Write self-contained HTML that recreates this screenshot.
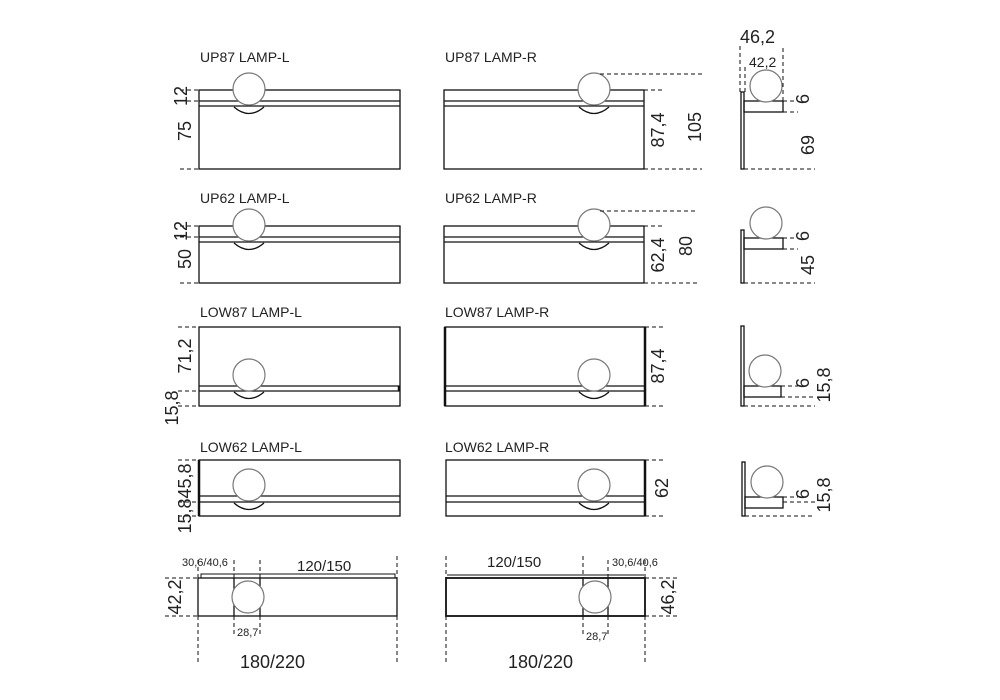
<!DOCTYPE html>
<html><head><meta charset="utf-8"><style>
html,body{margin:0;padding:0;background:#fff;}
svg{display:block;}
text{font-family:"Liberation Sans",sans-serif;fill:#222;}
.lb{font-size:14px;}
.d{font-size:18px;}
.s{font-size:11px;}
</style></head><body>
<svg width="1000" height="700" viewBox="0 0 1000 700" xmlns="http://www.w3.org/2000/svg">
<defs>
<g id="lamp"><circle r="16" fill="#fff" stroke="#777" stroke-width="1.2"/></g>
</defs>
<g fill="none" stroke="#111" stroke-width="1.3">
<rect x="199" y="90" width="201" height="79"/>
<line x1="199" y1="101" x2="400" y2="101"/><line x1="199" y1="106" x2="400" y2="106"/>
<path d="M234 107 Q249 120 264 107"/>
<rect x="444" y="90" width="200" height="79"/>
<line x1="444" y1="101" x2="644" y2="101"/><line x1="444" y1="106" x2="644" y2="106"/>
<path d="M579 107 Q594 120 609 107"/>
<rect x="199" y="226" width="201" height="57"/>
<line x1="199" y1="237" x2="400" y2="237"/><line x1="199" y1="242" x2="400" y2="242"/>
<path d="M234 243 Q249 256 264 243"/>
<rect x="444" y="226" width="200" height="57"/>
<line x1="444" y1="237" x2="644" y2="237"/><line x1="444" y1="242" x2="644" y2="242"/>
<path d="M579 243 Q594 256 609 243"/>
<rect x="199" y="327" width="201" height="79"/>
<line x1="199" y1="386" x2="400" y2="386"/><line x1="199" y1="391" x2="400" y2="391"/>
<line x1="399" y1="386" x2="399" y2="391" stroke-width="2.5"/>
<path d="M234 392 Q249 405 264 392"/>
<rect x="445" y="327" width="200" height="79"/>
<line x1="445" y1="327" x2="445" y2="406" stroke-width="2.5"/><line x1="645" y1="327" x2="645" y2="406" stroke-width="2.5"/>
<line x1="445" y1="386" x2="645" y2="386"/><line x1="445" y1="391" x2="645" y2="391"/>
<path d="M579 392 Q594 405 609 392"/>
<rect x="199" y="460" width="201" height="56"/>
<line x1="199" y1="460" x2="199" y2="516" stroke-width="2.5"/>
<line x1="199" y1="496" x2="400" y2="496"/><line x1="199" y1="502" x2="400" y2="502"/>
<path d="M234 503 Q249 516 264 503"/>
<rect x="446" y="460" width="199" height="56"/>
<line x1="645" y1="460" x2="645" y2="516" stroke-width="2.5"/>
<line x1="446" y1="496" x2="645" y2="496"/><line x1="446" y1="502" x2="645" y2="502"/>
<path d="M579 503 Q594 516 609 503"/>
<rect x="741" y="92" width="3" height="77"/><rect x="744" y="101" width="39" height="11"/>
<rect x="741" y="230" width="3" height="53"/><rect x="744" y="238" width="39" height="11"/>
<rect x="741" y="326" width="3" height="80"/><rect x="744" y="386" width="37" height="11"/>
<rect x="742" y="462" width="3" height="54"/><rect x="745" y="497" width="38" height="11"/>
<rect x="198" y="578" width="199" height="38"/>
<rect x="201" y="574" width="194" height="4" stroke-width="1"/>
<line x1="234" y1="578" x2="234" y2="616"/><line x1="260" y1="578" x2="260" y2="616"/>
<rect x="446" y="578" width="199" height="38" stroke-width="1.8"/>
<line x1="447" y1="575" x2="644" y2="575" stroke-width="1"/>
<line x1="583" y1="578" x2="583" y2="616"/><line x1="608" y1="578" x2="608" y2="616"/>
</g>
<use href="#lamp" x="249" y="89"/><use href="#lamp" x="594" y="89"/>
<use href="#lamp" x="249" y="225"/><use href="#lamp" x="594" y="225"/>
<use href="#lamp" x="249" y="375"/><use href="#lamp" x="594" y="375"/>
<use href="#lamp" x="249" y="485"/><use href="#lamp" x="594" y="485"/>
<use href="#lamp" x="766" y="86"/><use href="#lamp" x="766" y="223"/>
<use href="#lamp" x="765" y="371"/><use href="#lamp" x="767" y="482"/>
<use href="#lamp" x="248" y="597"/><use href="#lamp" x="595" y="597"/>
<g fill="none" stroke="#111" stroke-width="1" stroke-dasharray="4,3">
<path d="M180 90H199M180 101H199M180 169H199"/>
<path d="M600 74H702M644 90H663M644 169H702"/>
<path d="M740 92V45M783 101V45M745 92V65"/>
<path d="M783 101H798M783 112H798M744 169H815"/>
<path d="M180 226H199M180 237H199M180 283H199"/>
<path d="M600 211H695M644 226H663M644 283H700"/>
<path d="M783 238H798M783 249H798M744 283H815"/>
<path d="M178 327H199M178 391H199M178 406H199"/>
<path d="M645 327H663M645 406H663"/>
<path d="M781 386H798M781 397H815M744 406H815"/>
<path d="M178 460H199M178 502H199M178 516H199"/>
<path d="M645 460H665M645 516H665"/>
<path d="M783 497H798M783 502H815M745 516H815"/>
<path d="M198 560V578M198 616V665M234 560V578M234 616V637M260 560V578M260 616V637M397 556V578M397 616V665"/>
<path d="M165 578H198M165 616H198"/>
<path d="M446 556V578M446 616V662M583 556V578M583 616V637M608 560V578M608 616V637M645 560V578M645 616V662"/>
<path d="M645 578H680M645 616H680"/>
</g>
<text class="lb" x="200" y="62">UP87 LAMP-L</text>
<text class="lb" x="445" y="62">UP87 LAMP-R</text>
<text class="lb" x="200" y="203">UP62 LAMP-L</text>
<text class="lb" x="445" y="203">UP62 LAMP-R</text>
<text class="lb" x="200" y="317">LOW87 LAMP-L</text>
<text class="lb" x="445" y="317">LOW87 LAMP-R</text>
<text class="lb" x="200" y="452">LOW62 LAMP-L</text>
<text class="lb" x="445" y="452">LOW62 LAMP-R</text>
<g class="d">
<text transform="translate(187,96) rotate(-90)" text-anchor="middle">12</text>
<text transform="translate(191,131) rotate(-90)" text-anchor="middle">75</text>
<text transform="translate(664,130) rotate(-90)" text-anchor="middle">87,4</text>
<text transform="translate(701,127) rotate(-90)" text-anchor="middle">105</text>
<text transform="translate(809,99) rotate(-90)" text-anchor="middle">6</text>
<text transform="translate(814,145) rotate(-90)" text-anchor="middle">69</text>
<text transform="translate(187,231) rotate(-90)" text-anchor="middle">12</text>
<text transform="translate(191,259) rotate(-90)" text-anchor="middle">50</text>
<text transform="translate(664,255) rotate(-90)" text-anchor="middle">62,4</text>
<text transform="translate(692,246) rotate(-90)" text-anchor="middle">80</text>
<text transform="translate(809,236) rotate(-90)" text-anchor="middle">6</text>
<text transform="translate(814,265) rotate(-90)" text-anchor="middle">45</text>
<text transform="translate(191,356) rotate(-90)" text-anchor="middle">71,2</text>
<text transform="translate(178,408) rotate(-90)" text-anchor="middle">15,8</text>
<text transform="translate(664,366) rotate(-90)" text-anchor="middle">87,4</text>
<text transform="translate(809,383) rotate(-90)" text-anchor="middle">6</text>
<text transform="translate(830,385) rotate(-90)" text-anchor="middle">15,8</text>
<text transform="translate(191,481) rotate(-90)" text-anchor="middle">45,8</text>
<text transform="translate(191,516) rotate(-90)" text-anchor="middle">15,8</text>
<text transform="translate(668,488) rotate(-90)" text-anchor="middle">62</text>
<text transform="translate(809,494) rotate(-90)" text-anchor="middle">6</text>
<text transform="translate(830,495) rotate(-90)" text-anchor="middle">15,8</text>
<text transform="translate(181,597) rotate(-90)" text-anchor="middle">42,2</text>
<text transform="translate(674,597) rotate(-90)" text-anchor="middle">46,2</text>
</g>
<text class="d" x="740" y="43">46,2</text>
<text x="749" y="67" style="font-size:14px">42,2</text>
<text x="297" y="571" style="font-size:15px">120/150</text>
<text x="487" y="567" style="font-size:15px">120/150</text>
<text class="s" x="182" y="566">30,6/40,6</text>
<text class="s" x="612" y="566">30,6/40,6</text>
<text class="s" x="237" y="636">28,7</text>
<text class="s" x="586" y="640">28,7</text>
<text x="240" y="668" style="font-size:18px">180/220</text>
<text x="508" y="668" style="font-size:18px">180/220</text>
</svg>
</body></html>
